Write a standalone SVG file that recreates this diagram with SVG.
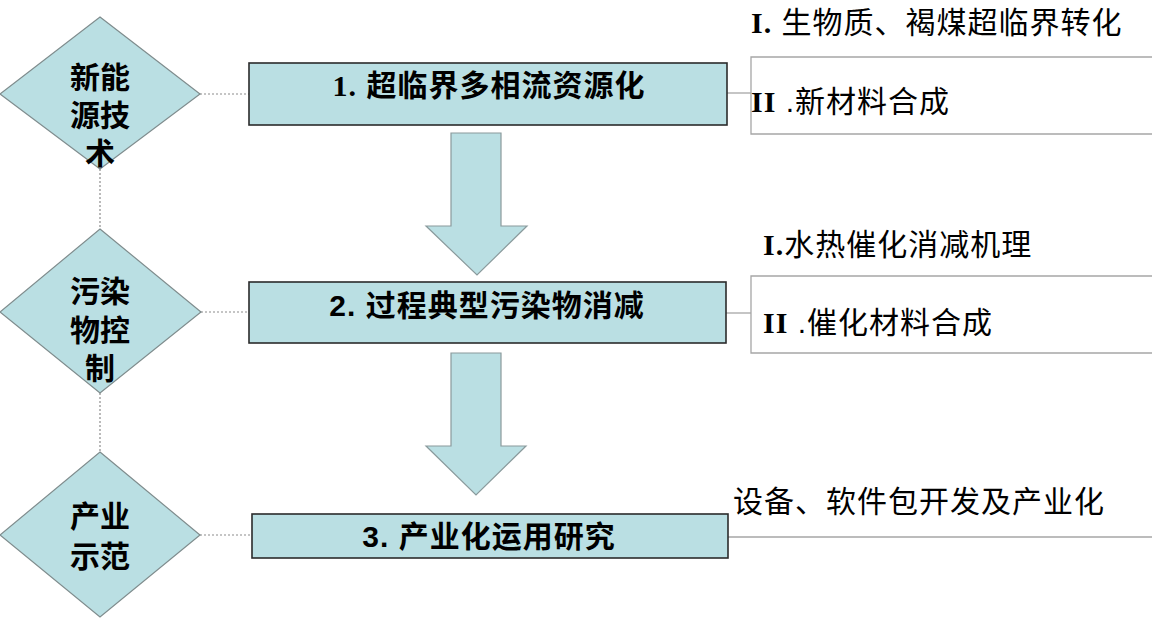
<svg xmlns="http://www.w3.org/2000/svg" width="1172" height="619" viewBox="0 0 1172 619">
<style>
.dia{fill:#BADFE3;stroke:#7f8c8d;stroke-width:1.2}
.box{fill:#BADFE3;stroke:#2b2b2b;stroke-width:1.6}
.arr{fill:#BADFE3;stroke:#8a9a9c;stroke-width:1.2}
.dot{stroke:#8c8c8c;stroke-width:1.2;stroke-dasharray:2 2;fill:none}
.sol{stroke:#a6a6a6;stroke-width:1.3;fill:none}
.dt{font-family:"Liberation Sans","Noto Sans CJK SC",sans-serif;font-weight:bold;font-size:30px;fill:#000;text-anchor:middle}
.bt{font-family:"Liberation Sans","Noto Sans CJK SC",sans-serif;font-weight:bold;font-size:30px;fill:#000;text-anchor:middle;letter-spacing:1px}
.rt{font-family:"Liberation Sans","Noto Sans CJK SC",sans-serif;font-size:30px;fill:#000;letter-spacing:1px}
.rm{font-family:"Liberation Serif",serif;font-weight:bold}
</style>
<rect width="1172" height="619" fill="#fff"/>
<g id="connectors">
<line class="dot" x1="200" y1="94" x2="249" y2="94"/>
<line class="dot" x1="201" y1="312" x2="249" y2="312"/>
<line class="dot" x1="200" y1="535" x2="252" y2="535"/>
<line class="dot" x1="100" y1="169" x2="100" y2="229"/>
<line class="dot" x1="100" y1="393" x2="100" y2="452"/>
<line class="sol" x1="727" y1="93" x2="751" y2="93"/>
<line class="sol" x1="726" y1="313" x2="751" y2="313"/>
<line class="sol" x1="728" y1="537" x2="1152" y2="537"/>
<polygon class="arr" points="451,133 501,133 501,226 527,226 477,275 426,226 451,226"/>
<polygon class="arr" points="451,353 501,353 501,446 526,446 476,495 426,446 451,446"/>
</g>
<g id="diamond1">
<polygon class="dia" points="100,17 200,94 100,169 0,94"/>
<text class="dt" x="100" y="88">新能</text>
<text class="dt" x="100" y="126">源技</text>
<text class="dt" x="100" y="164">术</text>
</g>
<g id="diamond2">
<polygon class="dia" points="100,229 201,312 100,393 0,312"/>
<text class="dt" x="100" y="302">污染</text>
<text class="dt" x="100" y="341">物控</text>
<text class="dt" x="100" y="379">制</text>
</g>
<g id="diamond3">
<polygon class="dia" points="100,452 200,535 100,617 0,535"/>
<text class="dt" x="100" y="527">产业</text>
<text class="dt" x="100" y="567">示范</text>
</g>
<g id="box1">
<rect class="box" x="249" y="63" width="478" height="62"/>
<text class="bt" x="489" y="96"><tspan class="rm">1.</tspan> 超临界多相流资源化</text>
</g>
<g id="box2">
<rect class="box" x="249" y="282" width="477" height="61"/>
<text class="bt" x="487" y="316">2. 过程典型污染物消减</text>
</g>
<g id="box3">
<rect class="box" x="252" y="514" width="476" height="44"/>
<text class="bt" x="489" y="547">3. 产业化运用研究</text>
</g>
<g id="detail1">
<path class="sol" d="M1152,57 H751 V134 H1152"/>
<text class="rt" x="751" y="33"><tspan class="rm">I.</tspan> 生物质、褐煤超临界转化</text>
<text class="rt" x="751" y="112"><tspan class="rm">II</tspan> .新材料合成</text>
</g>
<g id="detail2">
<path class="sol" d="M1152,276 H751 V353 H1152"/>
<text class="rt" x="763" y="255"><tspan class="rm">I.</tspan>水热催化消减机理</text>
<text class="rt" x="763" y="333"><tspan class="rm">II</tspan> .催化材料合成</text>
</g>
<g id="detail3">
<text class="rt" x="733" y="512">设备、软件包开发及产业化</text>
</g>
</svg>
